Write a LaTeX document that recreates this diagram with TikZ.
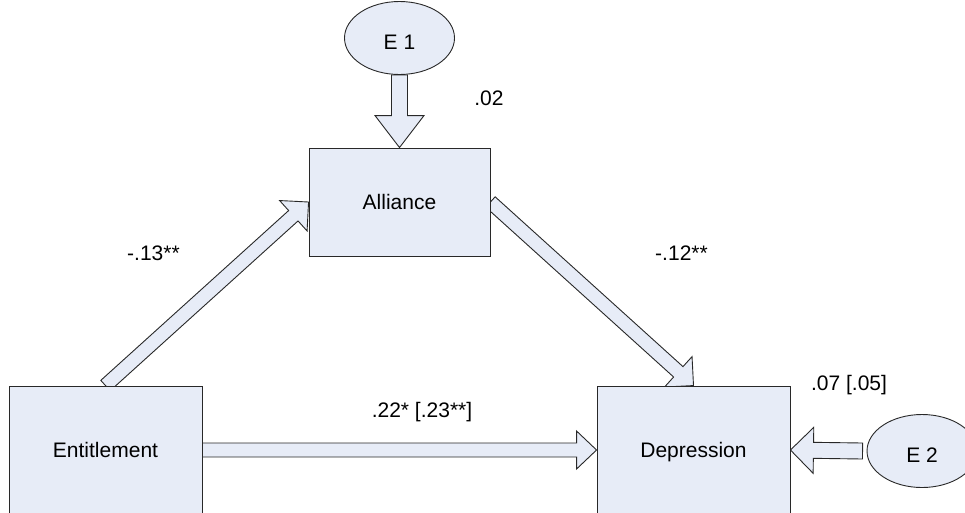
\documentclass[tikz,border=0pt]{standalone}
\usepackage{fontspec}
\setmainfont{Liberation Sans}
\usetikzlibrary{calc,shapes.geometric}
\pgfdeclarelayer{under}
\pgfsetlayers{under,main}
\definecolor{boxfill}{RGB}{231,236,247}
\definecolor{boxline}{RGB}{40,40,40}
\tikzset{
  varbox/.style={draw=boxline, fill=boxfill, line width=0.9pt, inner sep=0pt,
    font=\fontsize{21}{25}\selectfont, text height=15pt, text depth=0pt},
  errterm/.style={varbox, ellipse, minimum width=110pt, minimum height=73pt,
    text height=22pt},
  arrowbody/.style={draw=boxline, fill=boxfill, line width=0.9pt, line join=miter},
  coef/.style={inner sep=0pt, font=\fontsize{21}{25}\selectfont},
}
% block arrow: tail, tip, half shaft width, half head width, head length
\newcommand\blockarrow[5]{%
  \coordinate (ba-base) at ($(#2)!#5!(#1)$);
  \draw[arrowbody] ($(#1)!#3!90:(#2)$) -- ($(ba-base)!#3!-90:(#1)$)
    -- ($(ba-base)!#4!-90:(#1)$) -- (#2) -- ($(ba-base)!#4!90:(#1)$)
    -- ($(ba-base)!#3!90:(#1)$) -- ($(#1)!#3!-90:(#2)$) -- cycle;
}
\begin{document}
\begin{tikzpicture}[x=1pt, y=-1pt]
  \useasboundingbox (0,0) rectangle (965,512);
  \clip (0,0) rectangle (965,512);

  % variables
  \node[varbox, minimum width=181pt, minimum height=108pt] (all) at (399.5,202) {Alliance};
  \node[varbox, minimum width=193pt, minimum height=128pt] (ent) at (105.5,450) {Entitlement};
  \node[varbox, minimum width=193pt, minimum height=128pt] (dep) at (693.5,450) {Depression};

  % error terms
  \node[errterm] (e1) at (399.5,38) {E 1};
  \node[errterm] (e2) at (922,451) {E 2};
  \coordinate (e2tail) at ($(e2.west)+(-4,0)$);

  % paths
  \begin{pgfonlayer}{under}
    \blockarrow{e1.south}{all.north}{8pt}{24.5pt}{32pt}
    \blockarrow{e2tail}{dep.east}{8pt}{23pt}{23pt}
    \blockarrow{ent.east}{dep.west}{7pt}{19pt}{20pt}
    \blockarrow{ent.north}{all.west}{7pt}{20.5pt}{20.5pt}
    \blockarrow{all.east}{dep.north}{7pt}{20.5pt}{20.5pt}
  \end{pgfonlayer}

  % coefficients
  \node[coef] (c1) at (489,98) {.02};
  \node[coef] (c2) at (153.5,253) {-.13**};
  \node[coef] (c3) at (681.5,253) {-.12**};
  \node[coef] (c4) at (422,412) {.22* [.23**]};
  \node[coef] (c5) at (849,385) {.07 [.05]};
\end{tikzpicture}
\end{document}
